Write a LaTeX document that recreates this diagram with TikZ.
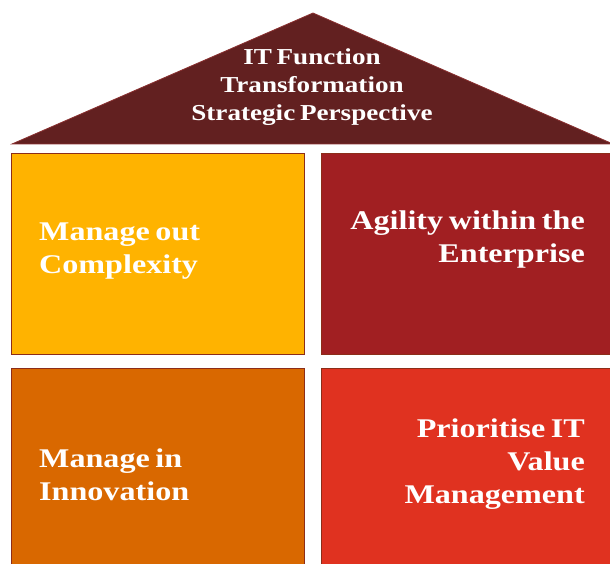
\documentclass[tikz,border=0pt]{standalone}
\usepackage{fontspec}
\setmainfont{Liberation Serif}[FakeStretch=1.19, WordSpace=0.7]
\usetikzlibrary{positioning}
\definecolor{roofred}{HTML}{622020}
\definecolor{roofedge}{HTML}{8A3030}
\definecolor{tileedge}{HTML}{8C2D19}
\definecolor{amber}{HTML}{FFB300}
\definecolor{wine}{HTML}{A11F22}
\definecolor{rust}{HTML}{D96800}
\definecolor{scarlet}{HTML}{E03220}

\begin{document}
\begin{tikzpicture}[x=1pt,y=-1pt,
		tile/.style={draw=tileedge, line width=0.8pt},
		label/.style={text=white, inner sep=0pt, font=\bfseries\fontsize{27}{33}\selectfont}]
					\useasboundingbox (0,0) rectangle (610,564);
					\clip (0,0) rectangle (610,564);

					\draw[draw=roofedge, line width=0.8pt, fill=roofred] (12,144) -- (313,13) -- (613,144) -- cycle;

					\draw[tile, fill=amber] (11,153) rectangle (304,354);
					\draw[tile, fill=wine] (321,153) rectangle (615,354);
					\draw[tile, fill=rust] (11,368) rectangle (304,570);
					\draw[tile, fill=scarlet] (321,368) rectangle (615,570);

					\node[text=white, inner sep=0pt, align=center, font=\bfseries\fontsize{22.8}{28.2}\selectfont] (roof) at (312,87) {IT Function\\Transformation\\Strategic Perspective};

					\node[label, anchor=west, align=left] (complexity) at (39,251) {Manage out\\Complexity};
					\node[label, anchor=east, align=right] (agility) at (585,240) {Agility within the\\Enterprise};
					\node[label, anchor=west, align=left] (innovation) at (39,475) {Manage in\\Innovation};
					\node[label, anchor=east, align=right] (value) at (585,464) {Prioritise IT\\Value\\Management};

				\end{tikzpicture}
\end{document}
